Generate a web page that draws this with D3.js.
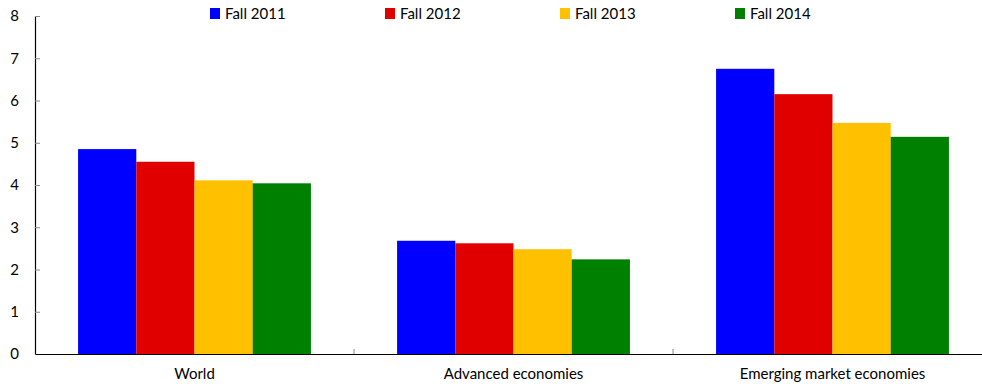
<!DOCTYPE html>
<html>
<head>
<meta charset="utf-8">
<script src="https://cdn.jsdelivr.net/npm/d3@7"></script>
<style>
  html, body { margin: 0; padding: 0; background: #fff; }
  svg { display: block; font-family: Lato, "Open Sans", sans-serif; }
</style>
</head>
<body>
<svg id="chart" width="982" height="387"></svg>
<script>
// Regions on the x axis
const categories = ["World", "Advanced economies", "Emerging market economies"];
// Forecast vintages shown in the legend
const seriesNames = ["Fall 2011", "Fall 2012", "Fall 2013", "Fall 2014"];
const seriesColors = ["#0000ff", "#e00000", "#ffc000", "#008000"];
// Values per vintage, one per region
const fall2011 = [4.85, 2.68, 6.75];
const fall2012 = [4.55, 2.62, 6.15];
const fall2013 = [4.11, 2.48, 5.47];
const fall2014 = [4.04, 2.24, 5.14];
const yTicks = [0, 1, 2, 3, 4, 5, 6, 7, 8];

const seriesValues = [fall2011, fall2012, fall2013, fall2014];

const svg = d3.select("#chart");
const plotLeft = 35, plotRight = 992, plotTop = 16, plotBottom = 354;

const x0 = d3.scaleBand().domain(categories).range([plotLeft, plotRight]);
const x1 = d3.scaleBand().domain(seriesNames)
  .range([0, x0.bandwidth()]).paddingOuter(0.74).paddingInner(0);
const y = d3.scaleLinear().domain([0, 8]).range([plotBottom, plotTop]);

// Bars
const groups = svg.append("g").selectAll("g")
  .data(categories)
  .join("g")
  .attr("transform", d => `translate(${x0(d)},0)`);

groups.selectAll("rect")
  .data((c, ci) => seriesNames.map((s, si) => ({ s, si, v: seriesValues[si][ci] })))
  .join("rect")
  .attr("x", d => x1(d.s))
  .attr("y", d => y(d.v))
  .attr("width", x1.bandwidth())
  .attr("height", d => y(0) - y(d.v))
  .attr("fill", d => seriesColors[d.si]);

// Y axis
const yAxis = svg.append("g")
  .attr("transform", `translate(${plotLeft},0)`)
  .call(d3.axisLeft(y).tickValues(yTicks).tickSize(-5).tickPadding(16).tickSizeOuter(0));
yAxis.select(".domain").attr("stroke", "#000").attr("stroke-width", 1.2);
yAxis.selectAll(".tick line").attr("stroke", "#888");
yAxis.selectAll(".tick text")
  .attr("font-size", 15).attr("fill", "#000")
  .attr("font-family", "Lato, sans-serif");

// X axis
const xAxis = svg.append("g")
  .attr("transform", `translate(0,${plotBottom})`)
  .call(d3.axisBottom(x0).tickSize(0).tickPadding(14).tickSizeOuter(0));
xAxis.select(".domain").attr("stroke", "#000").attr("stroke-width", 1.2);
xAxis.selectAll(".tick text")
  .attr("font-size", 15).attr("fill", "#000")
  .attr("font-family", "Lato, sans-serif");

// Group separators: small ticks between regions
svg.append("g").selectAll("line")
  .data(categories.slice(1))
  .join("line")
  .attr("x1", d => x0(d)).attr("x2", d => x0(d))
  .attr("y1", plotBottom).attr("y2", plotBottom - 5)
  .attr("stroke", "#888");

// Legend
const legendX = [210, 385, 560, 735];
const legend = svg.append("g").selectAll("g")
  .data(seriesNames)
  .join("g")
  .attr("transform", (d, i) => `translate(${legendX[i]},8)`);
legend.append("rect")
  .attr("width", 10).attr("height", 11)
  .attr("fill", (d, i) => seriesColors[i]);
legend.append("text")
  .attr("x", 15).attr("y", 11)
  .attr("font-size", 15).attr("fill", "#000")
  .text(d => d);
</script>
</body>
</html>
